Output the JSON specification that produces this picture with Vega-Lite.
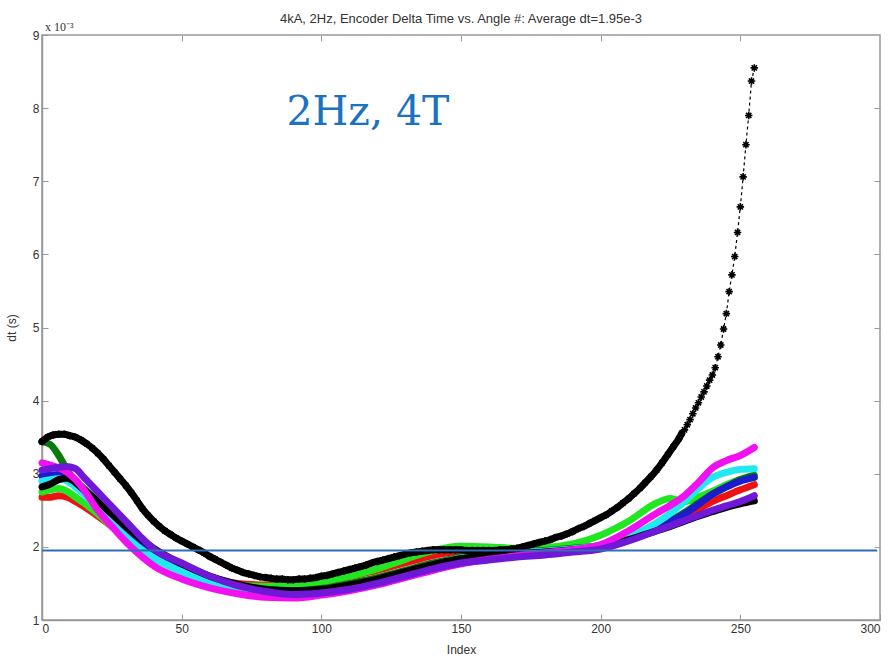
{
  "$schema": "https://vega.github.io/schema/vega-lite/v6.json",
  "width": 838,
  "height": 585,
  "autosize": {"type": "none"},
  "padding": {"left": 42, "top": 35, "right": 12, "bottom": 41},
  "background": "white",
  "title": {"text": "4kA, 2Hz, Encoder Delta Time vs. Angle #: Average dt=1.95e-3", "font": "Liberation Sans", "fontSize": 13, "fontWeight": "normal", "color": "#333333", "offset": -5},
  "config": {
    "view": {"stroke": "#999999", "strokeWidth": 1.5},
    "axis": {"grid": false, "domainColor": "#999999", "domainWidth": 1.5, "tickColor": "#999999", "tickSize": -6, "labelPadding": 9, "labelFont": "Liberation Sans", "labelFontSize": 12, "labelColor": "#333333", "titleFont": "Liberation Sans", "titleFontSize": 12, "titleFontWeight": "normal", "titleColor": "#333333"}
  },
  "datasets": {
    "lines": [
      {"s":"R","i":0,"v":2.68},{"s":"R","i":3,"v":2.68},{"s":"R","i":6,"v":2.70},{"s":"R","i":9,"v":2.68},{"s":"R","i":12,"v":2.62},{"s":"R","i":15,"v":2.55},{"s":"R","i":20,"v":2.42},{"s":"R","i":25,"v":2.28},{"s":"R","i":30,"v":2.13},{"s":"R","i":35,"v":1.99},{"s":"R","i":40,"v":1.87},{"s":"R","i":50,"v":1.69},{"s":"R","i":60,"v":1.57},{"s":"R","i":70,"v":1.50},{"s":"R","i":80,"v":1.48},{"s":"R","i":90,"v":1.49},{"s":"R","i":100,"v":1.53},{"s":"R","i":110,"v":1.60},{"s":"R","i":120,"v":1.68},{"s":"R","i":130,"v":1.78},{"s":"R","i":140,"v":1.88},{"s":"R","i":150,"v":1.94},{"s":"R","i":160,"v":1.95},{"s":"R","i":170,"v":1.95},{"s":"R","i":180,"v":1.96},{"s":"R","i":190,"v":1.98},{"s":"R","i":200,"v":2.02},{"s":"R","i":210,"v":2.12},{"s":"R","i":220,"v":2.25},{"s":"R","i":225,"v":2.32},{"s":"R","i":230,"v":2.42},{"s":"R","i":235,"v":2.52},{"s":"R","i":240,"v":2.62},{"s":"R","i":245,"v":2.70},{"s":"R","i":250,"v":2.78},{"s":"R","i":255,"v":2.85},
      {"s":"G","i":0,"v":2.75},{"s":"G","i":3,"v":2.78},{"s":"G","i":6,"v":2.80},{"s":"G","i":9,"v":2.76},{"s":"G","i":12,"v":2.68},{"s":"G","i":15,"v":2.60},{"s":"G","i":20,"v":2.45},{"s":"G","i":25,"v":2.28},{"s":"G","i":30,"v":2.12},{"s":"G","i":35,"v":1.97},{"s":"G","i":40,"v":1.85},{"s":"G","i":50,"v":1.67},{"s":"G","i":60,"v":1.55},{"s":"G","i":70,"v":1.48},{"s":"G","i":80,"v":1.46},{"s":"G","i":90,"v":1.48},{"s":"G","i":100,"v":1.52},{"s":"G","i":110,"v":1.60},{"s":"G","i":120,"v":1.70},{"s":"G","i":130,"v":1.83},{"s":"G","i":140,"v":1.95},{"s":"G","i":150,"v":2.01},{"s":"G","i":160,"v":2.00},{"s":"G","i":170,"v":1.98},{"s":"G","i":180,"v":1.99},{"s":"G","i":190,"v":2.04},{"s":"G","i":200,"v":2.16},{"s":"G","i":210,"v":2.35},{"s":"G","i":220,"v":2.60},{"s":"G","i":225,"v":2.66},{"s":"G","i":230,"v":2.62},{"s":"G","i":235,"v":2.68},{"s":"G","i":240,"v":2.76},{"s":"G","i":245,"v":2.85},{"s":"G","i":250,"v":2.92},{"s":"G","i":255,"v":2.95},
      {"s":"DG","i":0,"v":3.44},{"s":"DG","i":3,"v":3.40},{"s":"DG","i":6,"v":3.25},{"s":"DG","i":9,"v":3.05},{"s":"DG","i":12,"v":2.90},{"s":"DG","i":15,"v":2.80},{"s":"DG","i":20,"v":2.62},{"s":"DG","i":25,"v":2.42},{"s":"DG","i":30,"v":2.24},{"s":"DG","i":35,"v":2.08},{"s":"DG","i":40,"v":1.94},{"s":"DG","i":50,"v":1.74},{"s":"DG","i":60,"v":1.58},{"s":"DG","i":70,"v":1.47},{"s":"DG","i":80,"v":1.41},{"s":"DG","i":90,"v":1.40},{"s":"DG","i":100,"v":1.43},{"s":"DG","i":110,"v":1.50},{"s":"DG","i":120,"v":1.58},{"s":"DG","i":130,"v":1.68},{"s":"DG","i":140,"v":1.78},{"s":"DG","i":150,"v":1.86},{"s":"DG","i":160,"v":1.90},{"s":"DG","i":170,"v":1.93},{"s":"DG","i":180,"v":1.95},{"s":"DG","i":190,"v":1.98},{"s":"DG","i":200,"v":2.02},{"s":"DG","i":210,"v":2.13},{"s":"DG","i":220,"v":2.28},{"s":"DG","i":225,"v":2.36},{"s":"DG","i":230,"v":2.47},{"s":"DG","i":235,"v":2.60},{"s":"DG","i":240,"v":2.72},{"s":"DG","i":245,"v":2.82},{"s":"DG","i":250,"v":2.92},{"s":"DG","i":255,"v":2.98},
      {"s":"B","i":0,"v":2.97},{"s":"B","i":3,"v":2.98},{"s":"B","i":6,"v":2.99},{"s":"B","i":9,"v":2.96},{"s":"B","i":12,"v":2.88},{"s":"B","i":15,"v":2.77},{"s":"B","i":20,"v":2.58},{"s":"B","i":25,"v":2.38},{"s":"B","i":30,"v":2.20},{"s":"B","i":35,"v":2.03},{"s":"B","i":40,"v":1.90},{"s":"B","i":50,"v":1.70},{"s":"B","i":60,"v":1.55},{"s":"B","i":70,"v":1.44},{"s":"B","i":80,"v":1.38},{"s":"B","i":90,"v":1.37},{"s":"B","i":100,"v":1.40},{"s":"B","i":110,"v":1.46},{"s":"B","i":120,"v":1.55},{"s":"B","i":130,"v":1.65},{"s":"B","i":140,"v":1.75},{"s":"B","i":150,"v":1.83},{"s":"B","i":160,"v":1.88},{"s":"B","i":170,"v":1.91},{"s":"B","i":180,"v":1.93},{"s":"B","i":190,"v":1.96},{"s":"B","i":200,"v":2.00},{"s":"B","i":210,"v":2.12},{"s":"B","i":220,"v":2.27},{"s":"B","i":225,"v":2.35},{"s":"B","i":230,"v":2.45},{"s":"B","i":235,"v":2.58},{"s":"B","i":240,"v":2.72},{"s":"B","i":245,"v":2.82},{"s":"B","i":250,"v":2.90},{"s":"B","i":255,"v":2.95},
      {"s":"C","i":0,"v":2.90},{"s":"C","i":3,"v":2.92},{"s":"C","i":6,"v":2.93},{"s":"C","i":9,"v":2.90},{"s":"C","i":12,"v":2.82},{"s":"C","i":15,"v":2.72},{"s":"C","i":20,"v":2.52},{"s":"C","i":25,"v":2.32},{"s":"C","i":30,"v":2.14},{"s":"C","i":35,"v":1.98},{"s":"C","i":40,"v":1.85},{"s":"C","i":50,"v":1.66},{"s":"C","i":60,"v":1.51},{"s":"C","i":70,"v":1.41},{"s":"C","i":80,"v":1.36},{"s":"C","i":90,"v":1.35},{"s":"C","i":100,"v":1.38},{"s":"C","i":110,"v":1.45},{"s":"C","i":120,"v":1.54},{"s":"C","i":130,"v":1.65},{"s":"C","i":140,"v":1.76},{"s":"C","i":150,"v":1.85},{"s":"C","i":160,"v":1.89},{"s":"C","i":170,"v":1.92},{"s":"C","i":180,"v":1.94},{"s":"C","i":190,"v":1.97},{"s":"C","i":200,"v":2.02},{"s":"C","i":210,"v":2.14},{"s":"C","i":220,"v":2.33},{"s":"C","i":225,"v":2.46},{"s":"C","i":230,"v":2.62},{"s":"C","i":235,"v":2.80},{"s":"C","i":240,"v":2.95},{"s":"C","i":245,"v":3.02},{"s":"C","i":250,"v":3.06},{"s":"C","i":255,"v":3.07},
      {"s":"K2","i":0,"v":2.82},{"s":"K2","i":3,"v":2.86},{"s":"K2","i":6,"v":2.92},{"s":"K2","i":9,"v":2.94},{"s":"K2","i":12,"v":2.88},{"s":"K2","i":15,"v":2.78},{"s":"K2","i":20,"v":2.62},{"s":"K2","i":25,"v":2.45},{"s":"K2","i":30,"v":2.28},{"s":"K2","i":35,"v":2.12},{"s":"K2","i":40,"v":1.98},{"s":"K2","i":50,"v":1.77},{"s":"K2","i":60,"v":1.60},{"s":"K2","i":70,"v":1.49},{"s":"K2","i":80,"v":1.42},{"s":"K2","i":90,"v":1.40},{"s":"K2","i":100,"v":1.42},{"s":"K2","i":110,"v":1.48},{"s":"K2","i":120,"v":1.56},{"s":"K2","i":130,"v":1.66},{"s":"K2","i":140,"v":1.76},{"s":"K2","i":150,"v":1.84},{"s":"K2","i":160,"v":1.88},{"s":"K2","i":170,"v":1.91},{"s":"K2","i":180,"v":1.93},{"s":"K2","i":190,"v":1.96},{"s":"K2","i":200,"v":2.00},{"s":"K2","i":210,"v":2.10},{"s":"K2","i":220,"v":2.22},{"s":"K2","i":225,"v":2.28},{"s":"K2","i":230,"v":2.35},{"s":"K2","i":235,"v":2.42},{"s":"K2","i":240,"v":2.48},{"s":"K2","i":245,"v":2.54},{"s":"K2","i":250,"v":2.59},{"s":"K2","i":255,"v":2.63},
      {"s":"M","i":0,"v":3.15},{"s":"M","i":3,"v":3.12},{"s":"M","i":6,"v":3.08},{"s":"M","i":9,"v":3.02},{"s":"M","i":12,"v":2.92},{"s":"M","i":15,"v":2.78},{"s":"M","i":20,"v":2.50},{"s":"M","i":25,"v":2.28},{"s":"M","i":30,"v":2.07},{"s":"M","i":35,"v":1.89},{"s":"M","i":40,"v":1.74},{"s":"M","i":50,"v":1.56},{"s":"M","i":60,"v":1.44},{"s":"M","i":70,"v":1.36},{"s":"M","i":80,"v":1.31},{"s":"M","i":90,"v":1.30},{"s":"M","i":100,"v":1.34},{"s":"M","i":110,"v":1.40},{"s":"M","i":120,"v":1.48},{"s":"M","i":130,"v":1.58},{"s":"M","i":140,"v":1.68},{"s":"M","i":150,"v":1.77},{"s":"M","i":160,"v":1.83},{"s":"M","i":170,"v":1.88},{"s":"M","i":180,"v":1.92},{"s":"M","i":190,"v":1.96},{"s":"M","i":200,"v":2.03},{"s":"M","i":210,"v":2.22},{"s":"M","i":220,"v":2.46},{"s":"M","i":225,"v":2.57},{"s":"M","i":230,"v":2.70},{"s":"M","i":235,"v":2.88},{"s":"M","i":240,"v":3.08},{"s":"M","i":245,"v":3.18},{"s":"M","i":250,"v":3.25},{"s":"M","i":255,"v":3.36},
      {"s":"P","i":0,"v":3.05},{"s":"P","i":3,"v":3.07},{"s":"P","i":6,"v":3.09},{"s":"P","i":9,"v":3.10},{"s":"P","i":12,"v":3.07},{"s":"P","i":15,"v":2.95},{"s":"P","i":20,"v":2.75},{"s":"P","i":25,"v":2.55},{"s":"P","i":30,"v":2.35},{"s":"P","i":35,"v":2.15},{"s":"P","i":40,"v":1.97},{"s":"P","i":50,"v":1.78},{"s":"P","i":60,"v":1.60},{"s":"P","i":70,"v":1.47},{"s":"P","i":80,"v":1.39},{"s":"P","i":90,"v":1.35},{"s":"P","i":100,"v":1.37},{"s":"P","i":110,"v":1.42},{"s":"P","i":120,"v":1.50},{"s":"P","i":130,"v":1.60},{"s":"P","i":140,"v":1.70},{"s":"P","i":150,"v":1.78},{"s":"P","i":160,"v":1.82},{"s":"P","i":170,"v":1.86},{"s":"P","i":180,"v":1.89},{"s":"P","i":190,"v":1.93},{"s":"P","i":200,"v":1.97},{"s":"P","i":210,"v":2.08},{"s":"P","i":220,"v":2.22},{"s":"P","i":225,"v":2.29},{"s":"P","i":230,"v":2.36},{"s":"P","i":235,"v":2.43},{"s":"P","i":240,"v":2.50},{"s":"P","i":245,"v":2.56},{"s":"P","i":250,"v":2.62},{"s":"P","i":255,"v":2.70}
    ],
    "k1": [
      {"i":0,"v":3.44},{"i":2,"v":3.50},{"i":4,"v":3.53},{"i":6,"v":3.54},{"i":8,"v":3.54},{"i":10,"v":3.52},{"i":12,"v":3.50},{"i":14,"v":3.46},{"i":16,"v":3.41},{"i":18,"v":3.35},{"i":20,"v":3.28},{"i":22,"v":3.20},{"i":24,"v":3.11},{"i":26,"v":3.02},{"i":28,"v":2.93},{"i":30,"v":2.84},{"i":32,"v":2.74},{"i":34,"v":2.63},{"i":36,"v":2.52},{"i":38,"v":2.43},{"i":40,"v":2.35},{"i":42,"v":2.28},{"i":44,"v":2.22},{"i":46,"v":2.17},{"i":48,"v":2.12},{"i":50,"v":2.08},{"i":52,"v":2.04},{"i":54,"v":2.00},{"i":56,"v":1.96},{"i":58,"v":1.92},{"i":60,"v":1.87},{"i":62,"v":1.83},{"i":64,"v":1.79},{"i":66,"v":1.75},{"i":68,"v":1.71},{"i":70,"v":1.68},{"i":72,"v":1.65},{"i":74,"v":1.63},{"i":76,"v":1.61},{"i":78,"v":1.59},{"i":80,"v":1.58},{"i":82,"v":1.57},{"i":84,"v":1.56},{"i":86,"v":1.56},{"i":88,"v":1.55},{"i":90,"v":1.55},{"i":92,"v":1.56},{"i":94,"v":1.56},{"i":96,"v":1.57},{"i":98,"v":1.58},{"i":100,"v":1.60},{"i":102,"v":1.61},{"i":104,"v":1.63},{"i":106,"v":1.65},{"i":108,"v":1.67},{"i":110,"v":1.69},{"i":112,"v":1.71},{"i":114,"v":1.73},{"i":116,"v":1.75},{"i":118,"v":1.78},{"i":120,"v":1.80},{"i":122,"v":1.82},{"i":124,"v":1.84},{"i":126,"v":1.86},{"i":128,"v":1.88},{"i":130,"v":1.90},{"i":132,"v":1.92},{"i":134,"v":1.93},{"i":136,"v":1.94},{"i":138,"v":1.95},{"i":140,"v":1.96},{"i":142,"v":1.96},{"i":144,"v":1.96},{"i":146,"v":1.96},{"i":148,"v":1.96},{"i":150,"v":1.96},{"i":152,"v":1.95},{"i":154,"v":1.95},{"i":156,"v":1.95},{"i":158,"v":1.95},{"i":160,"v":1.95},{"i":162,"v":1.95},{"i":164,"v":1.96},{"i":166,"v":1.96},{"i":168,"v":1.97},{"i":170,"v":1.98},{"i":172,"v":2.00},{"i":174,"v":2.02},{"i":176,"v":2.04},{"i":178,"v":2.06},{"i":180,"v":2.08},{"i":182,"v":2.10},{"i":184,"v":2.13},{"i":186,"v":2.15},{"i":188,"v":2.18},{"i":190,"v":2.21},{"i":192,"v":2.25},{"i":194,"v":2.28},{"i":196,"v":2.32},{"i":198,"v":2.36},{"i":200,"v":2.40},{"i":202,"v":2.44},{"i":204,"v":2.49},{"i":206,"v":2.54},{"i":208,"v":2.60},{"i":210,"v":2.66},{"i":212,"v":2.73},{"i":214,"v":2.80},{"i":216,"v":2.88},{"i":218,"v":2.96},{"i":220,"v":3.05},{"i":222,"v":3.15},{"i":224,"v":3.26},{"i":226,"v":3.37},{"i":228,"v":3.48},{"i":229,"v":3.55},{"i":230,"v":3.60},{"i":231,"v":3.67},{"i":232,"v":3.74},{"i":233,"v":3.82},{"i":234,"v":3.90},{"i":235,"v":3.97},{"i":236,"v":4.05},{"i":237,"v":4.12},{"i":238,"v":4.20},{"i":239,"v":4.28},{"i":240,"v":4.35},{"i":241,"v":4.45},{"i":242,"v":4.60},{"i":243,"v":4.76},{"i":244,"v":4.98},{"i":245,"v":5.19},{"i":246,"v":5.49},{"i":247,"v":5.72},{"i":248,"v":5.97},{"i":249,"v":6.30},{"i":250,"v":6.65},{"i":251,"v":7.06},{"i":252,"v":7.50},{"i":253,"v":7.90},{"i":254,"v":8.37},{"i":255,"v":8.55}
    ]
  },
  "resolve": {"axis": {"x": "independent", "y": "independent"}},
  "layer": [
    {
      "data": {"name": "lines"},
      "mark": {"type": "line", "strokeWidth": 7, "interpolate": "monotone", "strokeCap": "round", "strokeJoin": "round"},
      "encoding": {
        "x": {"field": "i", "type": "quantitative", "scale": {"domain": [0, 300], "nice": false, "zero": false}, "axis": {"title": "Index", "values": [0, 50, 100, 150, 200, 250, 300], "titlePadding": 10}},
        "y": {"field": "v", "type": "quantitative", "scale": {"domain": [1, 9], "nice": false, "zero": false}, "axis": {"title": "dt (s)", "values": [1, 2, 3, 4, 5, 6, 7, 8, 9], "titlePadding": 14}},
        "color": {"field": "s", "type": "nominal", "legend": null, "sort": ["R", "G", "DG", "B", "C", "K2", "M", "P"], "scale": {"domain": ["R", "G", "DG", "B", "C", "K2", "M", "P"], "range": ["#ee1111", "#22e622", "#0a7a0a", "#1c1ccc", "#22e8f0", "#000000", "#f010f0", "#7018d8"]}},
        "order": {"field": "i", "type": "quantitative"}
      }
    },
    {
      "data": {"name": "k1"},
      "transform": [{"filter": "datum.i <= 229"}],
      "mark": {"type": "line", "color": "#000000", "strokeWidth": 7, "interpolate": "monotone", "strokeCap": "round"},
      "encoding": {
        "x": {"field": "i", "type": "quantitative", "axis": null},
        "y": {"field": "v", "type": "quantitative", "axis": null}
      }
    },
    {
      "data": {"name": "k1"},
      "mark": {"type": "line", "color": "#000000", "strokeWidth": 1.2, "strokeDash": [3, 3]},
      "encoding": {
        "x": {"field": "i", "type": "quantitative", "axis": null},
        "y": {"field": "v", "type": "quantitative", "axis": null}
      }
    },
    {
      "data": {"name": "k1"},
      "mark": {"type": "point", "shape": "M-1,0L1,0M0,-1L0,1M-0.7,-0.7L0.7,0.7M-0.7,0.7L0.7,-0.7", "filled": false, "stroke": "#000000", "strokeWidth": 1.6, "size": 56, "opacity": 1},
      "encoding": {
        "x": {"field": "i", "type": "quantitative", "axis": null},
        "y": {"field": "v", "type": "quantitative", "axis": null}
      }
    },
    {
      "data": {"values": [{"a": 0, "b": 299, "y": 1.95}]},
      "mark": {"type": "rule", "color": "#2f6db5", "strokeWidth": 2},
      "encoding": {
        "x": {"field": "a", "type": "quantitative", "axis": null},
        "x2": {"field": "b"},
        "y": {"field": "y", "type": "quantitative", "axis": null}
      }
    },
    {
      "data": {"values": [{"x": 116.7, "y": 7.77, "t": "2Hz, 4T"}]},
      "mark": {"type": "text", "font": "DejaVu Serif", "fontSize": 41, "color": "#1a72c0", "align": "center", "baseline": "alphabetic"},
      "encoding": {
        "x": {"field": "x", "type": "quantitative", "axis": null},
        "y": {"field": "y", "type": "quantitative", "axis": null},
        "text": {"field": "t"}
      }
    },
    {
      "data": {"values": [{"x": 0, "y": 9, "t": "x 10⁻³"}]},
      "mark": {"type": "text", "font": "Liberation Serif", "fontSize": 12, "color": "#333333", "align": "left", "baseline": "bottom", "dx": 3, "dy": -1},
      "encoding": {
        "x": {"field": "x", "type": "quantitative", "axis": null},
        "y": {"field": "y", "type": "quantitative", "axis": null},
        "text": {"field": "t"}
      }
    },
    {
      "data": {"values": [{"x": 0, "y": 1}]},
      "mark": {"type": "point", "opacity": 0},
      "encoding": {
        "x": {"field": "x", "type": "quantitative", "axis": {"orient": "top", "labels": false, "title": null, "domain": false, "values": [50, 100, 150, 200, 250]}},
        "y": {"field": "y", "type": "quantitative", "axis": {"orient": "right", "labels": false, "title": null, "domain": false, "values": [2, 3, 4, 5, 6, 7, 8]}}
      }
    }
  ]
}
